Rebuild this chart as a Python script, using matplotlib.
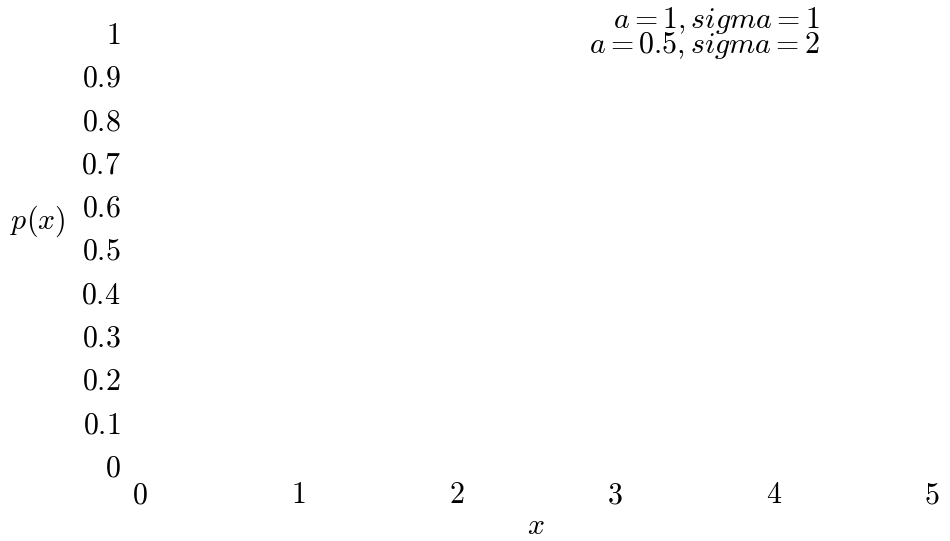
import matplotlib
matplotlib.use("Agg")
import matplotlib.pyplot as plt

plt.rcParams['mathtext.fontset'] = 'cm'
plt.rcParams['axes.unicode_minus'] = False

# Data (the reference shows only the text layer: ticks, axis labels, key entries)
x_ticks = [0, 1, 2, 3, 4, 5]
y_ticks = [0, 0.1, 0.2, 0.3, 0.4, 0.5, 0.6, 0.7, 0.8, 0.9, 1]
y_tick_labels = ["0", "0.1", "0.2", "0.3", "0.4", "0.5", "0.6", "0.7", "0.8", "0.9", "1"]
series_labels = [r"$a = 1, sigma = 1$", r"$a = 0.5, sigma = 2$"]

W, H = 950, 541
fig = plt.figure(figsize=(W / 100, H / 100), dpi=100)
x0, x1, y0, y1 = 140, 932, 465, 32
ax = fig.add_axes([x0 / W, 1 - y0 / H, (x1 - x0) / W, (y0 - y1) / H])
ax.set_xlim(0, 5)
ax.set_ylim(0, 1)
for s in ax.spines.values():
    s.set_visible(False)

fs = 21.5
ax.set_xticks(x_ticks)
ax.set_xticklabels([f"${t}$" for t in x_ticks], fontsize=fs)
ax.set_yticks(y_ticks)
ax.set_yticklabels([f"${t}$" for t in y_tick_labels], fontsize=fs)
ax.tick_params(axis='x', length=0, pad=11)
ax.tick_params(axis='y', length=0, pad=14)

fig.text(536 / W, 1 - 526 / H, r"$x$", fontsize=fs, ha='center', va='center')
fig.text(38 / W, 1 - 221 / H, r"$p(x)$", fontsize=fs, ha='center', va='center')

for i, lab in enumerate(series_labels):
    fig.text(820 / W, 1 - (20 + 25 * i) / H, lab, fontsize=fs, ha='right', va='center')

fig.savefig("out.png", dpi=100)
